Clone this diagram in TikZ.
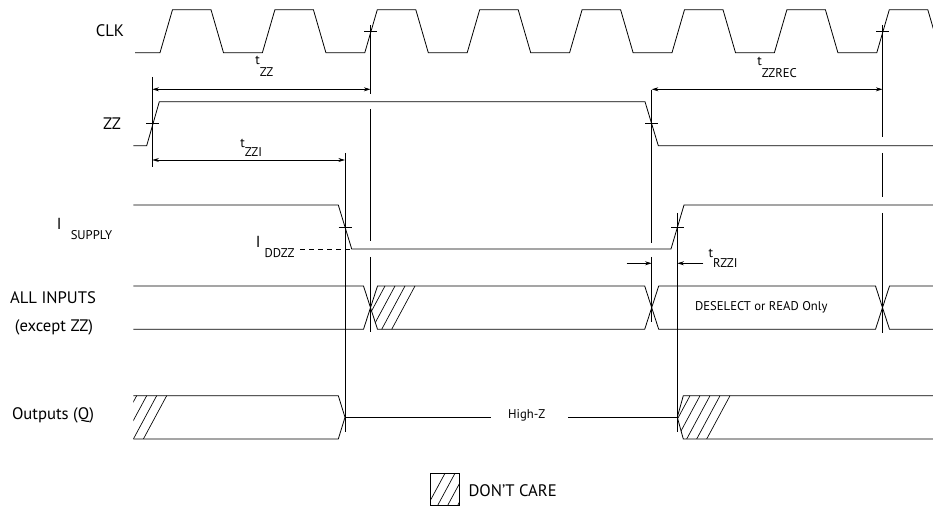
\documentclass[tikz,border=0pt]{standalone}
\usepackage{fontspec}
\setmainfont{PT Sans}
\usetikzlibrary{arrows.meta}
\newcommand{\lowsub}[2][7pt]{\raisebox{-#1}{\fontsize{9.5}{11}\selectfont #2}}
\begin{document}
\begin{tikzpicture}[x=0.75pt,y=-0.75pt,
  wave/.style={line width=0.6pt},
  guide/.style={line width=0.6pt},
  tickmark/.style={line width=0.6pt},
  hatchline/.style={line width=0.5pt},
  dim/.style={line width=0.6pt,{Stealth[length=5pt,width=3pt]}-{Stealth[length=5pt,width=3pt]}},
  dimr/.style={line width=0.6pt,-{Stealth[length=5pt,width=3pt]}},
  rowlabel/.style={font=\fontsize{12.5}{14}\selectfont, inner sep=0pt},
  smalllabel/.style={font=\fontsize{9.5}{11}\selectfont, inner sep=0pt},
  tlabel/.style={font=\fontsize{10}{12}\selectfont, inner sep=0pt, anchor=base west},
  ilabel/.style={font=\fontsize{12}{14}\selectfont, inner sep=0pt, anchor=base west}]
\useasboundingbox (0,0) rectangle (933,509);

% ---------- CLK ----------
\draw[wave] (135,52.7) foreach \k in {0,...,7} { -- ({160+102.4*\k},52.7) -- ({172.5+102.4*\k},9.7) -- ({211+102.4*\k},9.7) -- ({223.5+102.4*\k},52.7) };

% ---------- ZZ ----------
\draw[wave] (133.3,145.7) -- (146.7,145.7) -- (159.3,101.7) -- (645,101.7) -- (658.3,145.7) -- (940,145.7);

% ---------- I SUPPLY ----------
\draw[wave] (133.3,205) -- (338.3,205) -- (351.7,249) -- (671,249) -- (684,205) -- (940,205);
\coordinate (ddA) at (300,249);
\coordinate (ddB) at (351.7,249);
\draw[wave, dash pattern=on 3.75pt off 3pt] (ddA) -- (ddB);

% ---------- ALL INPUTS ----------
\draw[wave] (133.3,286) -- (363.5,286) -- (377.5,329.3) -- (644.7,329.3) -- (658.7,286) -- (875.5,286) -- (889.5,329.3) -- (940,329.3);
\draw[wave] (133.3,329.3) -- (363.5,329.3) -- (377.5,286) -- (644.7,286) -- (658.7,329.3) -- (875.5,329.3) -- (889.5,286) -- (940,286);
\begin{scope}
  \clip (377.5,286) -- (430,286) -- (430,329.3) -- (377.5,329.3) -- (370.5,307.7) -- cycle;
  \foreach \t in {385,395,405,415} \draw[hatchline] (\t,286) -- ({\t-23.3},329.3);
\end{scope}

% ---------- OUTPUTS ----------
\draw[wave] (133.3,395.7) -- (338.3,395.7) -- (345,417.3) -- (338.3,439) -- (133.3,439);
\draw[wave] (345,417.3) -- (491,417.3);
\draw[wave] (568.3,417.3) -- (677.3,417.3);
\draw[wave] (940,395.7) -- (683.3,395.7) -- (677.3,417.3) -- (683.3,439) -- (940,439);
\begin{scope}
  \clip (133.3,395.7) -- (180,395.7) -- (180,439) -- (133.3,439) -- cycle;
  \foreach \t in {136.7,146.7,156.7,166.7} \draw[hatchline] (\t,395.7) -- ({\t-23.3},439);
\end{scope}
\begin{scope}
  \clip (677.3,417.3) -- (683.3,395.7) -- (740,395.7) -- (740,439) -- (683.3,439) -- cycle;
  \foreach \t in {690,700,710,720,730} \draw[hatchline] (\t,395.7) -- ({\t-23.3},439);
\end{scope}

% ---------- guide lines ----------
\draw[guide] (152.3,77) -- (152.3,167);
\draw[guide] (370.5,25) -- (370.5,94);
\draw[guide] (370.5,109) -- (370.5,241);
\draw[guide] (370.5,257) -- (370.5,332);
\draw[guide] (345,153) -- (345,432);
\draw[guide] (651.7,90) -- (651.7,243);
\draw[guide] (651.7,257) -- (651.7,322);
\draw[guide] (677.3,213) -- (677.3,432);
\draw[guide] (882.5,25) -- (882.5,137);
\draw[guide] (882.5,153) -- (882.5,197);
\draw[guide] (882.5,213) -- (882.5,333);

% ---------- ticks ----------
\draw[tickmark] (364,31) -- (377,31);
\draw[tickmark] (876,31) -- (889,31);
\draw[tickmark] (146,123.3) -- (159,123.3);
\draw[tickmark] (645,123.3) -- (658,123.3);
\draw[tickmark] (338.5,227.3) -- (351.5,227.3);
\draw[tickmark] (671,227.3) -- (684,227.3);

% ---------- dimension arrows ----------
\coordinate (zzA) at (152.3,89.3);
\coordinate (zzB) at (370.5,89.3);
\draw[dim] (zzA) -- (zzB);
\coordinate (zziA) at (152.3,160);
\coordinate (zziB) at (345,160);
\draw[dim] (zziA) -- (zziB);
\coordinate (recA) at (651.7,89.3);
\coordinate (recB) at (882.5,89.3);
\draw[dim] (recA) -- (recB);
\coordinate (rzA0) at (626.7,263.3);
\coordinate (rzA1) at (651.7,263.3);
\coordinate (rzB0) at (703.3,263.3);
\coordinate (rzB1) at (677.3,263.3);
\draw[dimr] (rzA0) -- (rzA1);
\draw[dimr] (rzB0) -- (rzB1);

% ---------- labels ----------
\node[rowlabel] (clk) at (110,31) {CLK};
\node[rowlabel] (zz) at (112,124) {ZZ};
\node[rowlabel] (ai) at (53,298) {ALL INPUTS};
\node[rowlabel] (ex) at (54,327) {(except ZZ)};
\node[rowlabel] (oq) at (53,415) {Outputs (Q)};
\node[ilabel] (lisup) at (56.5,230) {I\hspace{7pt}\lowsub{SUPPLY}};
\node[ilabel] (lidd) at (255.5,248) {I \lowsub{DDZZ}};
\node[tlabel] (ltzz) at (255,65) {t\lowsub[8.5pt]{ZZ}};
\node[tlabel] (ltzzi) at (240,147.3) {t\lowsub{ZZI}};
\node[tlabel] (ltzzrec) at (757,66) {t\lowsub[8.5pt]{ZZREC}};
\node[tlabel] (ltrzzi) at (708.3,258) {t\lowsub{RZZI}};
\node[smalllabel] (hz) at (526.7,415.5) {High-Z};
\node[smalllabel] (ds) at (761.3,307.5) {DESELECT or READ Only};

% ---------- legend ----------
\begin{scope}
  \clip (430.7,473.3) rectangle (459.3,505.7);
  \foreach \t in {445,455,465,475} \draw[hatchline] (\t,473.3) -- ({\t-17.5},505.7);
\end{scope}
\draw[wave] (430.7,473.3) rectangle (459.3,505.7);
\node[rowlabel, anchor=west] (dc) at (468.3,491) {DON’T CARE};
\end{tikzpicture}
\end{document}
